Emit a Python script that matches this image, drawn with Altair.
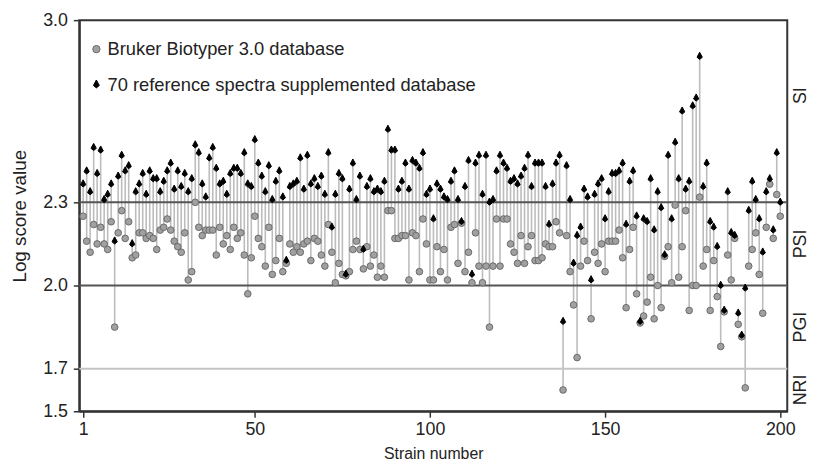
import altair as alt
import pandas as pd

strain = list(range(1, 201))

bruker = [
    2.25, 2.16, 2.12, 2.22, 2.15, 2.21, 2.15, 2.13, 2.23, 1.85,
    2.19, 2.27, 2.17, 2.23, 2.10, 2.11, 2.19, 2.19, 2.17, 2.18,
    2.17, 2.13, 2.20, 2.21, 2.24, 2.20, 2.16, 2.14, 2.12, 2.19,
    2.02, 2.05, 2.30, 2.21, 2.18, 2.20, 2.20, 2.20, 2.11, 2.21,
    2.15, 2.18, 2.13, 2.21, 2.17, 2.19, 2.11, 1.97, 2.10, 2.25,
    2.17, 2.14, 2.07, 2.21, 2.04, 2.09, 2.17, 2.05, 2.08, 2.15,
    2.12, 2.14, 2.12, 2.15, 2.16, 2.09, 2.17, 2.16, 2.11, 2.07,
    2.22, 2.12, 2.01, 2.08, 2.04, 2.035, 2.05, 2.13, 2.16, 2.13,
    2.06, 2.14, 2.07, 2.11, 2.03, 2.07, 2.03, 2.27, 2.27, 2.17,
    2.17, 2.18, 2.18, 2.02, 2.19, 2.18, 2.05, 2.24, 2.15, 2.02,
    2.02, 2.14, 2.05, 2.13, 2.02, 2.21, 2.22, 2.08, 2.225, 2.05,
    2.12, 2.01, 2.19, 2.07, 2.01, 2.07, 1.85, 2.07, 2.24, 2.07,
    2.24, 2.24, 2.15, 2.12, 2.08, 2.18, 2.08, 2.14, 2.18, 2.09,
    2.09, 2.10, 2.15, 2.14, 2.14, 2.23, 2.19, 1.60, 2.18, 2.05,
    1.93, 1.74, 2.07, 2.16, 2.09, 1.88, 2.12, 2.08, 2.15, 2.05,
    2.16, 2.16, 2.16, 2.20, 2.10, 1.92, 2.13, 2.21, 1.97, 1.865,
    1.89, 1.94, 2.03, 1.88, 2.00, 1.92, 2.105, 2.14, 2.01, 2.29,
    2.03, 2.14, 2.27, 1.91, 2.00, 2.00, 2.32, 2.07, 2.13, 1.91,
    2.09, 1.96, 1.78, 1.905, 2.11, 2.02, 2.17, 1.86, 1.815, 1.61,
    2.07, 2.13, 2.19, 2.04, 1.90, 2.21, 2.37, 2.17, 2.33, 2.25,
]

supplemented = [
    2.37, 2.42, 2.34, 2.51, 2.41, 2.50, 2.31, 2.33, 2.37, 2.16,
    2.40, 2.48, 2.42, 2.44, 2.15, 2.34, 2.37, 2.41, 2.33, 2.42,
    2.39, 2.39, 2.34, 2.38, 2.42, 2.45, 2.35, 2.42, 2.36, 2.41,
    2.34, 2.39, 2.52, 2.49, 2.37, 2.32, 2.47, 2.51, 2.43, 2.37,
    2.38, 2.33, 2.41, 2.43, 2.43, 2.41, 2.49, 2.37, 2.36, 2.54,
    2.45, 2.40, 2.34, 2.44, 2.31, 2.38, 2.42, 2.32, 2.09, 2.36,
    2.37, 2.38, 2.47, 2.35, 2.48, 2.37, 2.39, 2.36, 2.40, 2.33,
    2.49, 2.21, 2.33, 2.41, 2.39, 2.04, 2.35, 2.45, 2.31, 2.40,
    2.13, 2.36, 2.39, 2.34, 2.35, 2.34, 2.38, 2.58, 2.50, 2.50,
    2.35, 2.38, 2.45, 2.35, 2.46, 2.45, 2.43, 2.49, 2.33, 2.35,
    2.24, 2.37, 2.35, 2.32, 2.31, 2.38, 2.42, 2.31, 2.23, 2.36,
    2.46, 2.04, 2.45, 2.48, 2.33, 2.48, 2.30, 2.31, 2.42, 2.48,
    2.45, 2.43, 2.38, 2.39, 2.37, 2.40, 2.43, 2.48, 2.36, 2.45,
    2.45, 2.45, 2.36, 2.22, 2.37, 2.45, 2.48, 1.87, 2.44, 2.31,
    2.08, 2.18, 2.21, 2.35, 2.32, 2.02, 2.33, 2.37, 2.39, 2.24,
    2.34, 2.41, 2.41, 2.42, 2.45, 2.22, 2.38, 2.42, 2.25, 1.87,
    2.24, 2.23, 2.39, 2.20, 2.34, 2.28, 2.11, 2.48, 2.24, 2.53,
    2.39, 2.65, 2.35, 2.38, 2.67, 2.70, 2.86, 2.36, 2.45, 2.23,
    2.21, 2.14, 2.00, 1.91, 2.34, 2.19, 2.18, 1.90, 1.82, 1.99,
    2.27, 2.38, 2.31, 2.24, 2.12, 2.34, 2.39, 2.20, 2.49, 2.30,
]

series_names = ["Bruker Biotyper 3.0 database", "70 reference spectra supplemented database"]
y_ticks = [1.5, 1.7, 2.0, 2.3, 3.0]
x_ticks = [1, 50, 100, 150, 200]
threshold_values = [2.3, 2.0, 1.7]
threshold_colors = ["#555555", "#555555", "#c4c4c4"]
zone_labels = ["SI", "PSI", "PGI", "NRI"]
zone_label_y = [2.71, 2.15, 1.85, 1.60]

FONT = "Liberation Sans"
TXT = "#222222"
W, H = 715, 395

pairs = pd.DataFrame({"strain": strain, "bruker": bruker, "supplemented": supplemented})
long = pd.concat([
    pd.DataFrame({"strain": strain, "score": bruker, "series": series_names[0], "ord": 0}),
    pd.DataFrame({"strain": strain, "score": supplemented, "series": series_names[1], "ord": 1}),
], ignore_index=True)
thr = pd.DataFrame({"v": threshold_values, "c": threshold_colors})
zones = pd.DataFrame({"label": zone_labels, "y": zone_label_y})

xscale = alt.Scale(domain=[-0.1, 202], nice=False, zero=False)
yscale = alt.Scale(domain=[1.5, 1.7, 2.0, 2.3, 3.0], range=[H, 352, 268, 184, 0], nice=False, zero=False)

xaxis = alt.Axis(values=x_ticks, title="Strain number", grid=False, tickSize=6,
                 labelFontSize=18, titleFontSize=16, labelFont=FONT, titleFont=FONT,
                 labelColor=TXT, titleColor=TXT, titleFontWeight="normal",
                 domainColor="#333333", domainWidth=2, tickColor="#333333", tickWidth=1.5,
                 labelPadding=3, titlePadding=8)
yaxis = alt.Axis(values=y_ticks, format=".1f", title="Log score value", grid=False, tickSize=6,
                 labelFontSize=18, titleFontSize=19, labelFont=FONT, titleFont=FONT,
                 labelColor=TXT, titleColor=TXT, titleFontWeight="normal",
                 domainColor="#333333", domainWidth=2, tickColor="#333333", tickWidth=1.5,
                 labelPadding=6, titlePadding=13)

stems = alt.Chart(pairs).mark_rule(color="#bcbcbc", strokeWidth=1.6).encode(
    x=alt.X("strain:Q", scale=xscale, axis=xaxis),
    y=alt.Y("bruker:Q", scale=yscale, axis=yaxis),
    y2="supplemented:Q",
)

hlines = alt.Chart(thr).mark_rule(strokeWidth=2).encode(
    y=alt.Y("v:Q", scale=yscale, axis=yaxis),
    color=alt.Color("c:N", scale=None),
)

kite = "M0,-1.3L0.8,0.2L0,0.85L-0.8,0.2Z"
leg = alt.Legend(title=None, orient="none", legendX=8, legendY=20, labelFontSize=18.5,
                 labelFont=FONT, labelColor=TXT, rowPadding=17, symbolSize=55,
                 labelOffset=2, padding=0, symbolStrokeWidth=1, labelLimit=0)
points = alt.Chart(long).mark_point(filled=True, size=45, strokeWidth=1, opacity=1).encode(
    x=alt.X("strain:Q", scale=xscale, axis=xaxis),
    y=alt.Y("score:Q", scale=yscale, axis=yaxis),
    shape=alt.Shape("series:N", scale=alt.Scale(domain=series_names, range=["circle", kite]), legend=leg),
    fill=alt.Fill("series:N", scale=alt.Scale(domain=series_names, range=["#a0a0a0", "#000000"]), legend=leg),
    stroke=alt.Stroke("series:N", scale=alt.Scale(domain=series_names, range=["#6a6a6a", "#000000"]), legend=leg),
    order=alt.Order("ord:Q"),
)

zone_text = alt.Chart(zones).mark_text(angle=270, fontSize=18, font=FONT, color=TXT).encode(
    x=alt.value(729),
    y=alt.Y("y:Q", scale=yscale, axis=yaxis),
    text="label:N",
)

chart = alt.layer(stems, hlines, points, zone_text).properties(
    width=W, height=H,
    autosize=alt.AutoSizeParams(type="none"),
    padding={"left": 72, "top": 10, "right": 26, "bottom": 54},
).configure_view(stroke="#333333", strokeWidth=2)

chart.save("out.html", embed_options={"renderer": "svg", "actions": False})
